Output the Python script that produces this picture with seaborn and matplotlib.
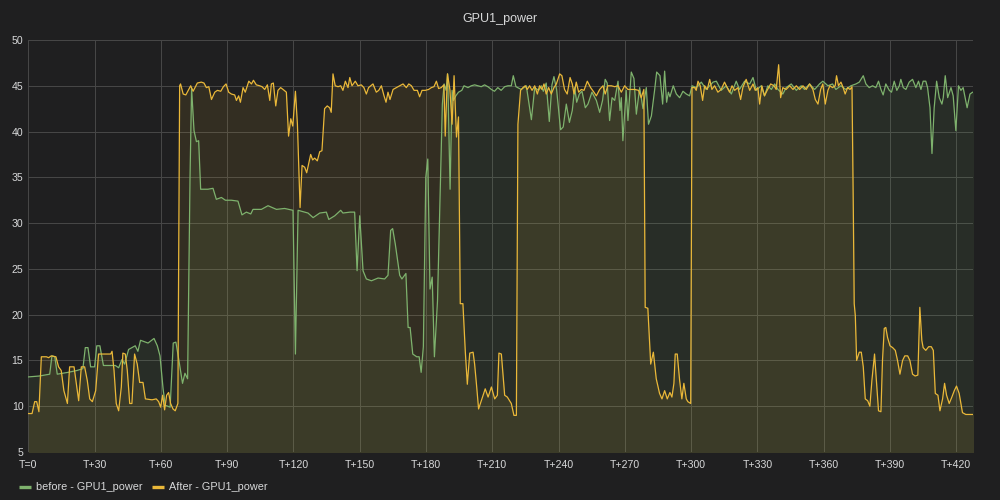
import matplotlib
matplotlib.use("Agg")
import matplotlib.pyplot as plt
from matplotlib.lines import Line2D
import pandas as pd
import seaborn as sns

# ---------------- data ----------------
before_t = [0, 5, 9.7, 10.7, 12, 13.1, 18, 22, 24.7, 25.8, 27, 28.2, 30, 31, 32.4, 34, 39.4, 40.9,
            42.4, 43.6, 45.4, 48.4, 49.6, 50.8, 54.2, 56.9, 58.4, 59.6, 61, 62, 64.2, 65.6, 66.8,
            68.3, 69.8, 70.9, 72.1, 73.2, 73.9, 75, 76.1, 77.1, 78, 81.3, 83.6, 85.1, 87.4, 89.2,
            91.9, 94.9, 96.7, 98.7, 100.7, 101.7, 105.5, 108.5, 112.3, 116, 119.8, 120.9, 122.1,
            126.6, 128.9, 131.9, 134.9, 136, 138.7, 141.4, 142.4, 145.6, 147.7, 148.8, 150, 151.5,
            153, 155.3, 158.3, 161.3, 162.8, 164, 164.9, 166.1, 168.1, 169.1, 170.9, 171.9, 172.8,
            174, 175.8, 176.9, 177.8, 178.8, 179.9, 180.8, 181.8, 182.8, 183.8, 185.2, 186.4,
            187.4, 188.2, 189.1, 189.8, 190.9, 191.8, 192.4, 193.5, 194.7, 196.2, 197.2, 199,
            200.5, 202, 203.5, 205, 206.5, 208, 209.6, 211, 212.5, 214, 215.6, 217.1, 218.6,
            219.5, 220.7, 223.1, 225.4, 227.7, 229.2, 231, 232.2, 233.1, 234.4, 235.8, 237, 237.9,
            239.1, 240.9, 242.1, 243.5, 244.9, 246.2, 247.3, 248.2, 249.4, 250.6, 252.1, 253.3,
            255.1, 257.1, 258.6, 259.9, 261.1, 262, 263.1, 264.2, 265.4, 266.9, 267.8, 268.4,
            269.1, 270.6, 271.4, 272.9, 274.1, 275.2, 276.7, 278.2, 279.7, 280.7, 282, 283.5,
            284.4, 285.9, 287.1, 288, 288.9, 289.7, 290.4, 291.9, 293.3, 294.8, 296.3, 297.8,
            299.3, 300.4, 302.3, 304.6, 306.8, 308.4, 309.9, 311.4, 313.6, 315.9, 318.2, 320.4,
            321.9, 324.2, 326.5, 328, 329.5, 331.7, 333.2, 334.7, 336.3, 337.8, 339.3, 341.5, 343,
            345.3, 347.6, 349.8, 351.3, 353.6, 355.9, 358.1, 359.6, 361.9, 364, 365.5, 367.8, 370,
            372.3, 374.6, 376.1, 377.9, 379.1, 380.6, 382.1, 383.6, 384.8, 385.9, 386.9, 388.1,
            389.7, 390.7, 391.9, 393.1, 394.2, 394.9, 396, 397.2, 398.7, 400.2, 401.7, 402.9, 404,
            405, 406.2, 407, 408.1, 409, 410, 411.1, 412.3, 413.5, 414.1, 415, 416.1, 417.6, 418.6,
            419.8, 421, 422.1, 423.1, 424, 424.9, 426.2, 427.4, 428]
before_w = [13.2, 13.3, 13.5, 15.5, 15.4, 13.5, 13.7, 13.9, 14.1, 16.4, 16.4, 14.3, 14.3, 16.6, 16.6,
            14.45, 14.45, 14.2, 15.1, 14.6, 16.2, 16.6, 16.0, 17.2, 16.9, 17.4, 16.6, 15.5, 11.9,
            10.1, 9.9, 16.9, 17.0, 14.8, 12.5, 13.6, 13.0, 35, 44.7, 40.1, 38.9, 39.0, 33.7, 33.7,
            33.8, 32.6, 32.8, 32.5, 32.5, 32.4, 30.9, 31.2, 31.0, 31.5, 31.5, 31.9, 31.5, 31.6, 31.4,
            15.7, 31.4, 31.1, 30.6, 31.1, 31.2, 30.4, 30.8, 31.4, 31.1, 31.2, 31.2, 24.8, 30.8, 24.8,
            23.9, 23.7, 24.0, 23.9, 24.3, 29.2, 29.4, 27.7, 24.3, 23.9, 24.5, 18.6, 18.6, 15.7,
            15.4, 15.4, 13.7, 16.5, 35, 37, 22.8, 24.1, 15.4, 21.5, 33.2, 43, 45.2, 44.5, 46.3,
            33.7, 44.5, 43.4, 43.9, 44.3, 44.5, 45, 44.8, 45.0, 45.1, 45, 44.9, 45.1, 44.9, 44.6,
            44.4, 44.8, 44.5, 44.9, 45, 45, 46.1, 44.9, 44.6, 45, 41.3, 44.8, 44.5, 45, 44.4, 45.3,
            41.1, 45.1, 46.0, 44.6, 40.2, 40.5, 43.0, 41.0, 42.3, 44.8, 43.2, 44.1, 44.4, 42.6,
            43.0, 44.3, 43.4, 42.1, 43.4, 45.7, 45.3, 41.2, 43.7, 43.4, 45.5, 42.3, 43.7, 39.0,
            44.5, 41.2, 46.5, 45.8, 41.9, 44.8, 42.5, 44.8, 40.8, 41.7, 44.6, 46.5, 46.1, 43.0,
            46.6, 43.2, 44.3, 43.8, 45.0, 44.1, 43.7, 44.4, 44.1, 43.9, 45.0, 44.8, 45.4, 44.6, 45,
            45.4, 45.5, 44.5, 45, 44.1, 45.5, 44.6, 45.5, 45.2, 45.9, 44.5, 45, 43.9, 45, 44.6,
            45.2, 44.6, 44.1, 44.8, 45.2, 44.5, 45, 44.6, 45.2, 44.6, 45.2, 45.5, 45, 45.2, 44.6,
            45, 44.6, 45, 45.2, 45.4, 46.1, 45.2, 44.8, 45, 44.8, 45.5, 44.6, 44.0, 45.2, 44.5,
            44.3, 45.5, 44.5, 45, 45.7, 44.8, 44.6, 45.4, 45.7, 44.8, 45.5, 44.6, 45.5, 45.5, 44.8,
            42.6, 37.6, 42.6, 45.5, 43.7, 43, 43.7, 46.1, 43.7, 44.8, 43.9, 40.1, 45, 44.5, 44.8,
            43.7, 42.6, 44.1, 44.3, 44.3]

after_t = [0, 1.7, 2.9, 3.8, 4.8, 5.9, 8.2, 9.2, 10.4, 12.5, 13.7, 14.9, 16.1, 17.7, 18.7, 20.7,
           21.7, 22.8, 24, 25.5, 26.7, 27.8, 29, 30.5, 31.8, 37.3, 37.9, 38.8, 39.8, 40.9, 42.1,
           42.8, 43.9, 44.8, 45.9, 46.9, 48.1, 49.3, 50.4, 51.9, 53, 56, 57.9, 59, 59.9, 60.8,
           61.7, 62.6, 63.5, 64.4, 65.5, 66.5, 67.7, 68.5, 68.9, 70.1, 71.3, 72.6, 73.5, 74.6,
           76.5, 78.3, 79.5, 80.6, 81.7, 82.9, 84.4, 85.6, 87.1, 88.3, 89.5, 90.7, 91.9, 93.4,
           94.2, 95.2, 96, 97.2, 98.2, 99.8, 101, 101.9, 103.2, 104.7, 105.8, 107, 108.2, 109.3,
           110, 110.9, 112, 113, 114.2, 115.3, 116.8, 117.8, 118.8, 119.7, 120.9, 121.8, 123,
           123.9, 125.1, 126, 126.9, 127.8, 128.7, 129.6, 130.8, 131.9, 132.9, 134.1, 135.3,
           136.4, 137.1, 137.9, 138.9, 140.2, 141.4, 142.4, 143.5, 144.7, 145.5, 146.5, 148,
           149.2, 150.7, 151.9, 153, 154, 156, 157.5, 158.6, 159.8, 161, 161.9, 162.8, 163.7,
           165.1, 166.6, 168.1, 169.6, 171.1, 172.2, 173.4, 174.6, 176.1, 177.1, 178.2, 179.7,
           181.2, 182.4, 183.6, 184.7, 185.7, 186.9, 188.1, 188.7, 189.7, 190.8, 191.8, 192.7,
           193.8, 194.7, 195.5, 196.7, 197.8, 198.7, 199.8, 201.3, 202, 202.8, 203.8, 205.3,
           206.8, 208.1, 209.6, 211.1, 212.3, 213, 214.1, 215.6, 216.8, 218.6, 219.8, 220.9,
           221.6, 222.8, 223.9, 224.9, 225.8, 226.9, 228, 229.2, 230.4, 231.4, 232.5, 233.4,
           234.4, 235.5, 236.7, 237.9, 239, 240.5, 241.5, 242.7, 243.9, 245.2, 246.2, 247, 248,
           249.1, 250.3, 251.5, 253, 254.5, 256, 257.1, 258.6, 260.1, 261.1, 262.3, 263.9, 265.4,
           266.9, 268.4, 269.9, 271.4, 274.4, 276.2, 277.4, 278.6, 279.2, 280.4, 281.7, 282.9,
           284.2, 285.7, 286.8, 288, 289.2, 290.4, 291.3, 292.2, 292.8, 293.7, 294.8, 295.8,
           296.7, 297.8, 298.5, 299.8, 300.4, 301.6, 302.3, 303.1, 304.1, 305.2, 306.1, 307.3,
           308.4, 309.4, 310.6, 312.1, 313.6, 315.1, 316.3, 317.4, 318.5, 319.7, 321.2, 322.4,
           323.4, 324.9, 326.5, 328, 329, 330.2, 331, 332, 333.2, 334.4, 336, 337.5, 338.5, 339.6,
           340.5, 341.5, 343, 344.6, 346.1, 347.6, 349.1, 350.6, 352.1, 353.6, 355.1, 356.2,
           357.4, 358.6, 359.6, 360.7, 361.9, 362.8, 364, 365.2, 365.8, 366.7, 367.8, 368.8,
           369.7, 370.8, 371.9, 372.8, 373.4, 373.8, 374.3, 374.9, 376.1, 377, 377.9, 378.8,
           379.9, 380.9, 381.8, 383, 383.9, 384.8, 385.9, 386.6, 387.4, 388.1, 388.9, 390, 391.2,
           392.4, 393.4, 394.5, 395.7, 396.7, 398, 399, 400.2, 401.4, 402.6, 403.5, 404.4, 405,
           406.2, 407.5, 408.7, 409.6, 410.5, 411.7, 412.6, 413.8, 414.7, 415.6, 416.8, 418,
           419.1, 420.1, 421.3, 422.1, 422.8, 424.3, 428]
after_w = [9.2, 9.2, 10.5, 10.5, 9.4, 15.4, 15.4, 15.3, 15.5, 15.4, 14.3, 13.9, 11.7, 10.3, 14.3, 14.3,
           12.5, 10.6, 14.3, 14.3, 12.8, 10.8, 10.5, 11.7, 15.7, 15.7, 16.0, 13.9, 10.3, 9.5, 12.1,
           15.8, 15.7, 13.9, 10.3, 10.3, 15.7, 14.6, 12.6, 12.6, 10.8, 10.7, 10.8, 10.5, 9.9, 11.2,
           9.6, 11.2, 11.5, 10.3, 9.7, 9.5, 10.3, 45.0, 45.2, 44.1, 44.0, 44.6, 45.0, 44.4, 45.3,
           45.4, 45.3, 44.8, 44.9, 43.5, 44.3, 44.5, 44.4, 44.9, 45.2, 44.3, 44.1, 44.0, 43.4,
           43.9, 43.2, 44.8, 44.3, 45.5, 45.2, 45.6, 45.1, 45.0, 44.9, 44.6, 45.1, 43.4, 45.2,
           45.3, 42.8, 44.5, 44.8, 44.6, 44.3, 39.5, 41.4, 40.6, 44.4, 40.8, 31.7, 36.3, 36.1,
           35.5, 36.5, 37.5, 36.9, 37.1, 36.8, 37.8, 37.9, 42.5, 42.8, 42.6, 42.1, 46.3, 45.0,
           44.9, 45.0, 44.5, 45.5, 44.8, 45.9, 45.0, 45.5, 45.0, 45.1, 44.8, 44.1, 44.8, 45.2,
           44.3, 44.5, 45.0, 43.9, 43.2, 44.3, 43.5, 44.6, 44.8, 45.0, 45.2, 44.8, 45.2, 45.0,
           44.5, 44.5, 43.8, 44.5, 44.5, 44.6, 44.8, 44.9, 45.5, 44.7, 44.8, 45.1, 39.5, 46.3,
           44.6, 40.8, 46.1, 39.4, 41.6, 21.2, 21.2, 15.9, 12.4, 15.8, 15.9, 14.6, 12.5, 9.7, 10.8,
           11.9, 11.0, 12.1, 10.8, 11.2, 15.8, 15.7, 11.2, 11.0, 10.3, 9.0, 9.0, 40.8, 44.5, 44.8,
           45.0, 44.6, 45.0, 44.5, 45.0, 44.1, 45.0, 44.6, 45.2, 44.1, 44.8, 44.1, 44.8, 45.2,
           46.3, 46.1, 44.6, 44.1, 45.9, 45.2, 44.1, 45.4, 44.3, 44.6, 44.5, 45.5, 44.8, 44.3,
           43.9, 44.6, 45.0, 44.1, 45.0, 45.0, 44.9, 45.0, 44.3, 45.0, 44.6, 44.6, 44.5, 43.7,
           44.6, 20.8, 20.7, 14.6, 15.9, 13.0, 11.4, 10.8, 11.7, 10.8, 11.5, 11.0, 12.5, 15.7,
           15.7, 12.8, 10.8, 12.5, 10.8, 10.5, 10.3, 44.8, 44.8, 44.5, 45.5, 45.0, 43.4, 45.0,
           44.6, 45.7, 44.6, 45.0, 44.3, 44.6, 45.4, 44.8, 44.3, 45.0, 44.5, 44.8, 43.5, 44.8,
           45.7, 44.5, 45.2, 44.5, 44.8, 43.0, 45.0, 43.9, 44.5, 45.2, 45.0, 44.6, 47.3, 43.7,
           44.8, 44.6, 45.0, 44.6, 45.0, 44.6, 45.0, 44.6, 45.2, 44.6, 43.5, 43.0, 44.6, 45.2,
           43.0, 44.5, 45.0, 44.8, 45.0, 46.1, 45.0, 45.4, 44.8, 44.1, 44.8, 44.6, 44.9, 31.4,
           21.2, 19.9, 15.0, 15.9, 15.9, 14.3, 10.8, 10.6, 10.0, 12.8, 15.7, 12.6, 9.5, 9.4, 15.0,
           18.5, 18.6, 17.5, 16.6, 16.4, 16.1, 15.0, 13.5, 15.0, 15.5, 15.5, 15.0, 13.5, 13.3,
           13.4, 20.8, 17.2, 16.4, 16.1, 16.5, 16.5, 16.1, 11.4, 11.2, 9.5, 10.8, 12.5, 11.2,
           10.3, 11.0, 11.7, 12.2, 11.4, 10.3, 9.3, 9.1, 9.1]

series_names = ["before - GPU1_power", "After - GPU1_power"]
series_colors = ["#7eb26d", "#eab839"]
x_ticks = list(range(0, 421, 30))
x_tick_labels = ["T=0"] + ["T+%d" % t for t in x_ticks[1:]]
y_ticks = list(range(5, 51, 5))
title = "GPU1_power"

# ---------------- style ----------------
bg = "#1f1f20"
txt = "#d8d9da"
grid = "#464646"

sns.set_theme(style="dark", rc={
    "figure.facecolor": bg, "axes.facecolor": bg, "savefig.facecolor": bg,
    "axes.edgecolor": bg, "text.color": txt, "xtick.color": txt, "ytick.color": txt,
    "axes.labelcolor": txt,
})
plt.rcParams["font.family"] = ["Liberation Sans", "DejaVu Sans"]

df = pd.concat([
    pd.DataFrame({"t": before_t, "w": before_w, "series": series_names[0]}),
    pd.DataFrame({"t": after_t, "w": after_w, "series": series_names[1]}),
], ignore_index=True)
palette = dict(zip(series_names, series_colors))

fig = plt.figure(figsize=(10, 5), dpi=100)
ax = fig.add_axes([0.0283, 0.096, 0.945, 0.824])
ax.set_axisbelow(True)

for name, t, w in [(series_names[0], before_t, before_w), (series_names[1], after_t, after_w)]:
    ax.fill_between(t, w, 0, color=palette[name], alpha=0.1, linewidth=0, zorder=1)

sns.lineplot(data=df, x="t", y="w", hue="series", palette=palette, hue_order=series_names,
             estimator=None, sort=True, linewidth=0.9, legend=False, ax=ax, zorder=3)

ax.set_xlim(0, 427.7)
ax.set_ylim(5, 50)
ax.set_xticks(x_ticks)
ax.set_xticklabels(x_tick_labels)
ax.set_yticks(y_ticks)
ax.set_yticklabels([str(v) for v in y_ticks])
ax.tick_params(axis="both", length=0, labelsize=7.6, colors=txt)
ax.tick_params(axis="x", pad=6)
ax.tick_params(axis="y", pad=3.5)
ax.grid(True, color=grid, linewidth=0.75)
for s in ax.spines.values():
    s.set_visible(False)
ax.set_xlabel("")
ax.set_ylabel("")

fig.text(0.5, 1 - 19 / 500, title, ha="center", va="center", fontsize=9, color=txt)

handles = [Line2D([0], [0], color=c, linewidth=2.4, solid_capstyle="butt") for c in series_colors]
fig.legend(handles, series_names, loc="center left", bbox_to_anchor=(0.019, 1 - 487.5 / 500),
           ncol=2, frameon=False, fontsize=7.8, handlelength=1.1, handletextpad=0.45,
           columnspacing=0.9, borderpad=0, borderaxespad=0, labelcolor=txt)

fig.savefig("out.png", dpi=100, facecolor=bg)
